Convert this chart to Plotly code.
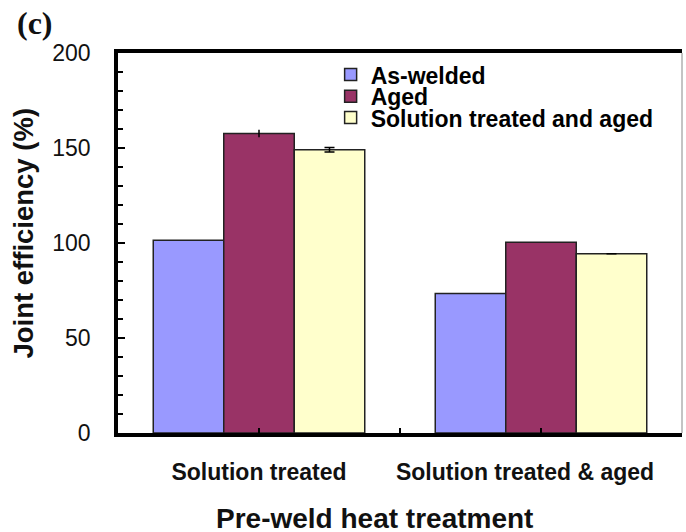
import plotly.graph_objects as go

categories = ["Solution treated", "Solution treated & aged"]
series_names = ["As-welded", "Aged", "Solution treated and aged"]
as_welded = [101.5, 73.4]
aged = [157.6, 100.4]
sta = [149.1, 94.3]
aged_err = [2.0, 0.0]
sta_err = [1.2, 0.0]
y_ticks = [0, 50, 100, 150, 200]

colors = ["#9999FF", "#993366", "#FFFFCC"]
x_pos = list(range(len(categories)))

FONT = "Liberation Sans, Arial, sans-serif"

fig = go.Figure()
values = [as_welded, aged, sta]
errs = [None, aged_err, sta_err]
err_w = [0, 0, 5]
legends = ["legend", "legend2", "legend3"]
for i, name in enumerate(series_names):
    kw = {}
    if errs[i] is not None:
        kw["error_y"] = dict(type="data", array=errs[i], visible=True,
                             color="black", thickness=1.5, width=err_w[i])
    fig.add_trace(go.Bar(
        x=x_pos, y=values[i], name=name, showlegend=True,
        marker=dict(color=colors[i], line=dict(color="#222222", width=1.5)),
        legend=legends[i], **kw))

leg_common = dict(font=dict(family=FONT, size=23, color="black", weight="bold"),
                  bgcolor="rgba(0,0,0,0)", borderwidth=0, xanchor="left",
                  yanchor="middle", itemwidth=30, x=0.377, visible=True)
label_texts = [categories[0], categories[1] + "\u00a0" * 5]

fig.update_layout(
    width=686, height=532,
    margin=dict(l=118, r=1, t=53, b=99),
    paper_bgcolor="white", plot_bgcolor="white",
    showlegend=True,
    barmode="group", bargap=0.25, bargroupgap=0,
    legend=dict(**leg_common, y=0.943),
    legend2=dict(**leg_common, y=0.886),
    legend3=dict(**leg_common, y=0.830),
    xaxis=dict(
        range=[-0.5, len(categories) - 0.5],
        tickvals=x_pos, ticktext=label_texts,
        ticks="inside", ticklen=5, tickwidth=1.5, tickcolor="black",
        minor=dict(tick0=0.5, dtick=1, ticks="inside", ticklen=5,
                   tickwidth=1.5, tickcolor="black", showgrid=False),
        showline=True, linecolor="black", linewidth=3.5, mirror=True,
        showgrid=False, zeroline=False,
        tickfont=dict(family=FONT, size=23, color="#111", weight="bold"),
        ticklabelstandoff=16, ticklabeloverflow="allow",
    ),
    yaxis=dict(
        range=[0, 200], tickvals=y_ticks,
        ticks="inside", ticklen=7, tickwidth=1.5, tickcolor="black",
        minor=dict(dtick=10, ticks="inside", ticklen=5, tickwidth=1.5,
                   tickcolor="black", showgrid=False),
        showline=True, linecolor="black", linewidth=3.5,
        showgrid=False, zeroline=False,
        tickfont=dict(family=FONT, size=23, color="#111"),
        ticklabelstandoff=19,
    ),
    annotations=[
        dict(text="Joint efficiency (%)", xref="paper", yref="paper",
             x=-0.167, y=0.527, xanchor="center", yanchor="middle",
             textangle=-90, showarrow=False,
             font=dict(family=FONT, size=27.5, color="#111", weight="bold")),
        dict(text="Pre-weld heat treatment", xref="paper", yref="paper",
             x=0.455, y=-0.225, xanchor="center", yanchor="middle",
             showarrow=False,
             font=dict(family=FONT, size=28, color="#111", weight="bold")),
        dict(text="(c)", xref="paper", yref="paper",
             x=-0.148, y=1.078, xanchor="center", yanchor="middle",
             showarrow=False,
             font=dict(family="Liberation Serif, Times New Roman, serif",
                       size=32, color="#111", weight="bold")),
    ],
    shapes=[
        dict(type="line", xref="paper", yref="paper", x0=1, x1=1, y0=0, y1=1,
             line=dict(color="#888888", width=1)),
    ],
)

fig.write_html("out.html", config={"displayModeBar": False},
               post_script="document.body.style.margin='0';document.body.style.overflow='hidden';")
